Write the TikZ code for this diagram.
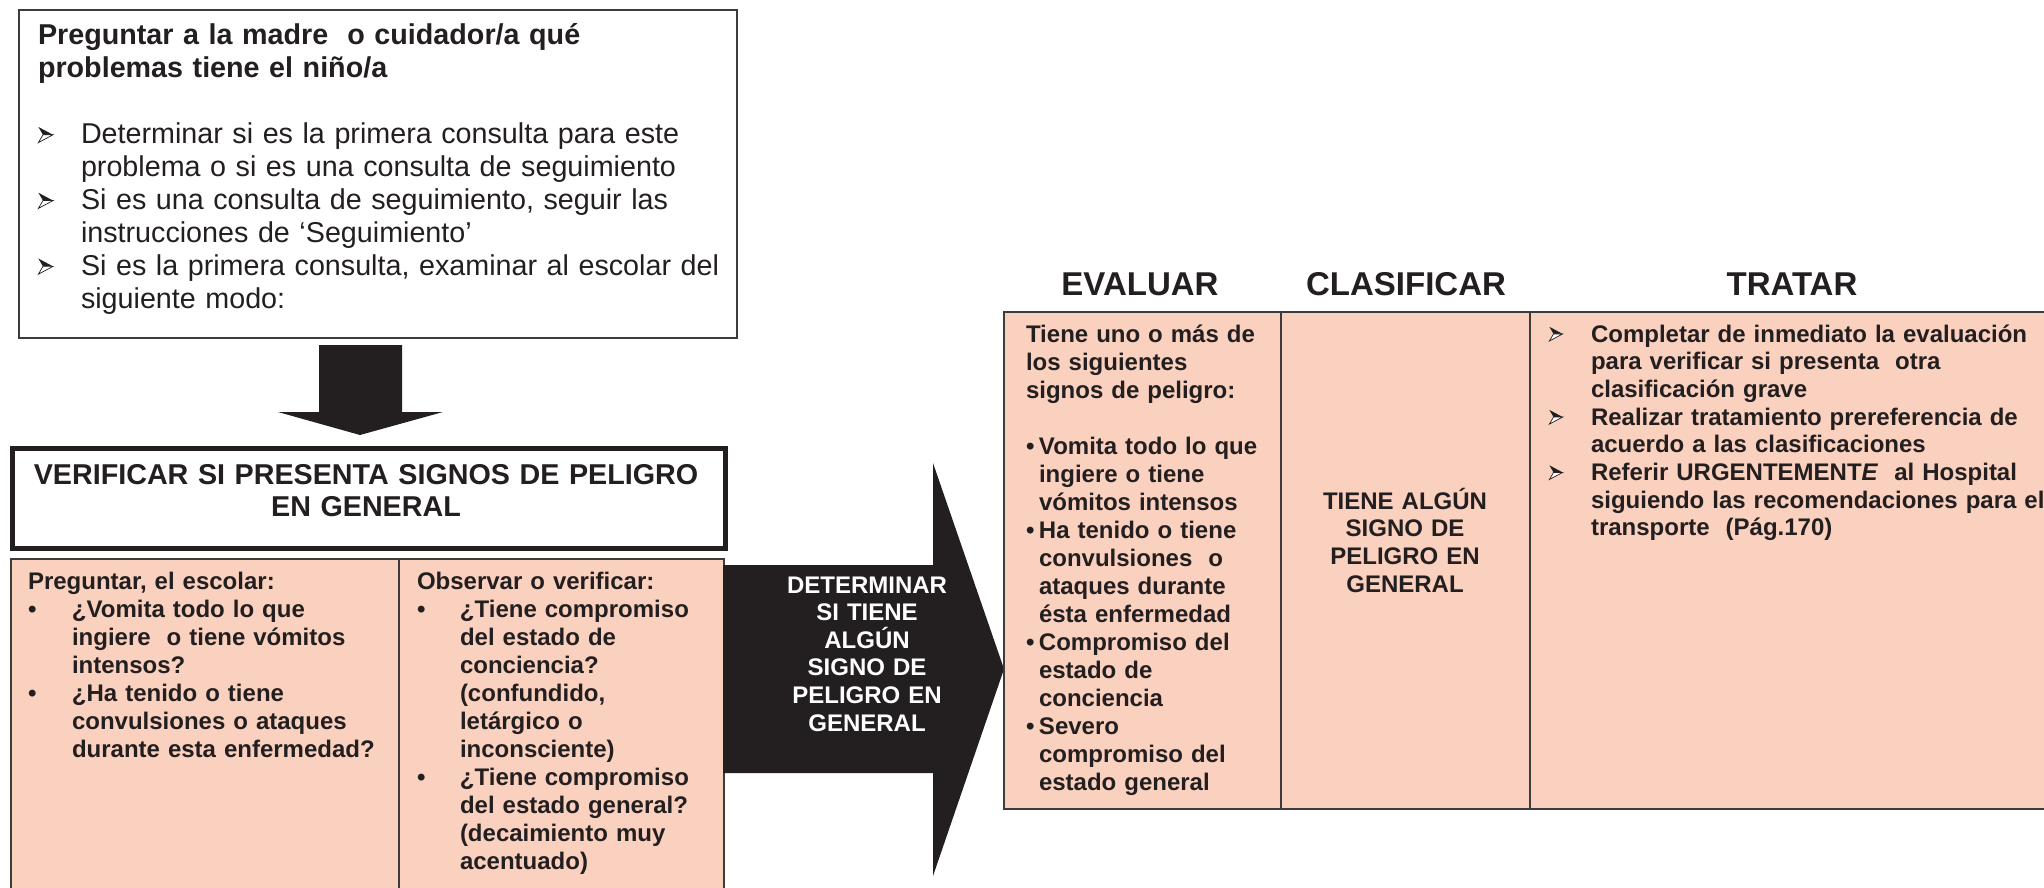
\documentclass[tikz,border=0pt]{standalone}
\usepackage{fontspec}
\setmainfont{Liberation Sans}
\usepackage{xcolor}
\usetikzlibrary{positioning,calc}
\definecolor{inkgray}{HTML}{231F20}
\definecolor{peach}{HTML}{FAD0BE}
\definecolor{framegray}{HTML}{3C3C3C}

% 3-D arrowhead bullet, #1 = indent, #2 = size factor
\newcommand{\arrowmark}[2]{\makebox[#1][l]{\tikz[x=#2pt, y=#2pt, baseline=0pt, line join=miter]{%
    \fill[inkgray] (0,8) -- (7,4.25) -- (2.2,4.25) -- cycle;
    \filldraw[fill=white, draw=inkgray, line width=0.35pt] (0,0.5) -- (7,4.25) -- (2.2,4.25) -- cycle;}}}
\newcommand{\dotmark}[1]{\makebox[#1][l]{•}}
\newcommand{\gap}[1]{\hspace*{#1}}

\begin{document}
\begin{tikzpicture}[
    x=0.5pt, y=-0.5pt,
    every node/.style={text=inkgray},
    txt/.style={inner sep=0pt, outer sep=0pt, text width=#1, align=left},
    ctxt/.style={inner sep=0pt, outer sep=0pt, text width=#1, align=center},
    bodyfont/.style={font=\bfseries\fontsize{12}{14}\selectfont},
    askbox/.style={draw=framegray, line width=1.2pt, fill=white, anchor=north west, inner sep=0pt},
    verifbox/.style={draw=inkgray, line width=2.5pt, fill=white, anchor=north west, inner sep=0pt},
    cell/.style={draw=framegray, line width=0.9pt, fill=peach, anchor=north west, inner sep=0pt},
    headfont/.style={font=\bfseries\fontsize{16.5}{18}\selectfont, inner sep=0pt, anchor=base}
]
    \useasboundingbox (0,0) rectangle (2044,888);
    \clip (0,0) rectangle (2044,888);

    % Top box
    \node[askbox, minimum width=359pt, minimum height=164pt] (askBox) at (18,9) {};
    \node[txt=350pt, anchor=base west, font=\fontsize{14.35}{16.45}\selectfont] (askText) at (38,45) {%
        \textbf{Preguntar a la madre\ \ o cuidador/a qué}\\
        \textbf{problemas tiene el niño/a}\\[16.45pt]
        \arrowmark{21.5pt}{1.05}Determinar si es la primera consulta para este\\
        \gap{21.5pt}problema o si es una consulta de seguimiento\\
        \arrowmark{21.5pt}{1.05}Si es una consulta de seguimiento, seguir las\\
        \gap{21.5pt}instrucciones de ‘Seguimiento’\\
        \arrowmark{21.5pt}{1.05}Si es la primera consulta, examinar al escolar del\\
        \gap{21.5pt}siguiente modo:};

    % Down arrow
    \fill[inkgray] (319,345) -- (402,345) -- (402,412) -- (443,412) -- (360,435)
        -- (278,412) -- (319,412) -- cycle;

    % Verify box
    \node[verifbox, minimum width=356.5pt, minimum height=50pt] (verifBox) at (9.5,445.5) {};
    \node[ctxt=355pt, anchor=base, font=\bfseries\fontsize{14.35}{16}\selectfont] (verifText) at (366,484) {%
        VERIFICAR SI PRESENTA SIGNOS DE PELIGRO\\ EN GENERAL};

    % Ask / observe cells
    \node[cell, minimum width=194pt, minimum height=175pt] (askCell) at (10,558) {};
    \node[cell, minimum width=162.5pt, minimum height=175pt] (lookCell) at (398,558) {};

    \node[txt=185pt, anchor=base west, bodyfont] (askList) at (28,589) {%
        Preguntar, el escolar:\\
        \dotmark{22pt}¿Vomita todo lo que\\
        \gap{22pt}ingiere\ \ o tiene vómitos\\
        \gap{22pt}intensos?\\
        \dotmark{22pt}¿Ha tenido o tiene\\
        \gap{22pt}convulsiones o ataques\\
        \gap{22pt}durante esta enfermedad?};

    \node[txt=150pt, anchor=base west, bodyfont] (lookList) at (417,589) {%
        Observar o verificar:\\
        \dotmark{21.5pt}¿Tiene compromiso\\
        \gap{21.5pt}del estado de\\
        \gap{21.5pt}conciencia?\\
        \gap{21.5pt}(confundido,\\
        \gap{21.5pt}letárgico o\\
        \gap{21.5pt}inconsciente)\\
        \dotmark{21.5pt}¿Tiene compromiso\\
        \gap{21.5pt}del estado general?\\
        \gap{21.5pt}(decaimiento muy\\
        \gap{21.5pt}acentuado)};

    % Big arrow to the table
    \fill[inkgray] (723,565) -- (933,565) -- (933,463) -- (1004,669) -- (933,876)
        -- (933,773) -- (723,773) -- cycle;
    \node[ctxt=100pt, anchor=base, text=white, font=\bfseries\fontsize{12}{13.8}\selectfont] (determText) at (867,593) {%
        DETERMINAR\\ SI TIENE\\ ALGÚN\\ SIGNO DE\\ PELIGRO EN\\ GENERAL};

    % Column headers
    \node[headfont] (evalHead) at (1140,295) {EVALUAR};
    \node[headfont] (clasHead) at (1406,295) {CLASIFICAR};
    \node[headfont] (tratHead) at (1792,295) {TRATAR};

    % Table cells
    \node[cell, minimum width=138.5pt, minimum height=248.5pt] (evalCell) at (1003,311) {};
    \node[cell, minimum width=124.5pt, minimum height=248.5pt] (clasCell) at (1280,311) {};
    \node[cell, minimum width=270pt, minimum height=248.5pt] (tratCell) at (1529,311) {};

    \node[txt=135pt, anchor=base west, bodyfont] (evalList) at (1026,342) {%
        Tiene uno o más de\\
        los siguientes\\
        signos de peligro:\\[14pt]
        \dotmark{6.5pt}Vomita todo lo que\\
        \gap{6.5pt}ingiere o tiene\\
        \gap{6.5pt}vómitos intensos\\
        \dotmark{6.5pt}Ha tenido o tiene\\
        \gap{6.5pt}convulsiones\ \ o\\
        \gap{6.5pt}ataques durante\\
        \gap{6.5pt}ésta enfermedad\\
        \dotmark{6.5pt}Compromiso del\\
        \gap{6.5pt}estado de\\
        \gap{6.5pt}conciencia\\
        \dotmark{6.5pt}Severo\\
        \gap{6.5pt}compromiso del\\
        \gap{6.5pt}estado general};

    \node[ctxt=115pt, anchor=base, font=\bfseries\fontsize{12}{13.85}\selectfont] (clasText) at (1405,509) {%
        TIENE ALGÚN\\ SIGNO DE\\ PELIGRO EN\\ GENERAL};

    \node[txt=255pt, anchor=base west, font=\bfseries\fontsize{12}{13.85}\selectfont] (tratList) at (1549,342) {%
        \arrowmark{21pt}{0.95}Completar de inmediato la evaluación\\
        \gap{21pt}para verificar si presenta\ \ otra\\
        \gap{21pt}clasificación grave\\
        \arrowmark{21pt}{0.95}Realizar tratamiento prereferencia de\\
        \gap{21pt}acuerdo a las clasificaciones\\
        \arrowmark{21pt}{0.95}Referir URGENTEMENT\textit{E}\ \ al Hospital\\
        \gap{21pt}siguiendo las recomendaciones para el\\
        \gap{21pt}transporte\ \ (Pág.170)};
\end{tikzpicture}
\end{document}
